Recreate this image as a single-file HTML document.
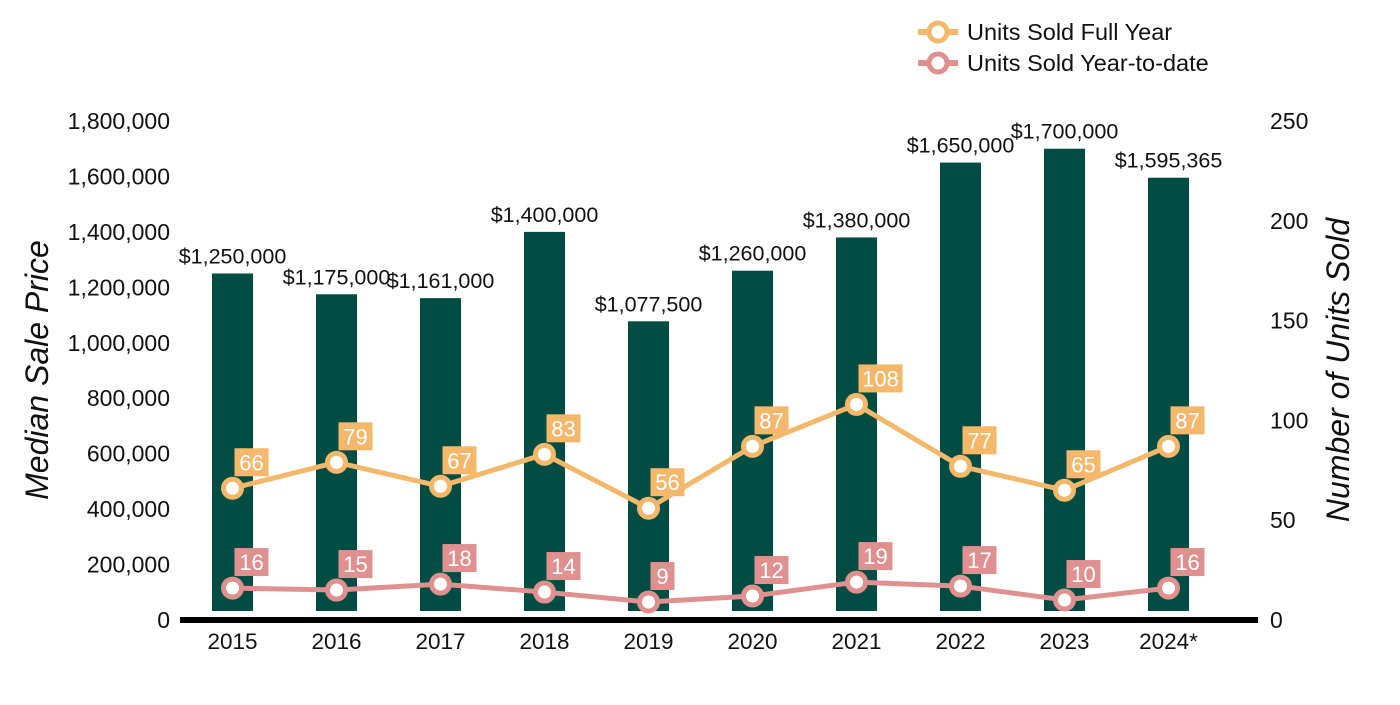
<!DOCTYPE html>
<html><head><meta charset="utf-8"><style>
body{margin:0;background:#fff;width:1400px;height:700px;overflow:hidden;font-family:"Liberation Sans",Arial,sans-serif}
</style></head><body>
<svg id="c" width="1400" height="700" style="font-family:'Liberation Sans',Arial,sans-serif">
<g>
<g>
<line x1="918" y1="32" x2="958" y2="32" stroke="#f5b86b" stroke-width="6"/>
<circle cx="938" cy="32" r="9" fill="#fff" stroke="#f5b86b" stroke-width="5"/>
<text x="967" y="40" font-size="23.5" fill="#111">Units Sold Full Year</text></g>
<g>
<line x1="918" y1="63" x2="958" y2="63" stroke="#e0918f" stroke-width="6"/>
<circle cx="938" cy="63" r="9" fill="#fff" stroke="#e0918f" stroke-width="5"/>
<text x="967" y="71" font-size="23.5" fill="#111">Units Sold Year-to-date</text></g>
</g>
<text transform="translate(48,370) rotate(-90)" text-anchor="middle" font-size="32" font-style="italic" fill="#111">Median Sale Price</text>
<text transform="translate(1349,370) rotate(-90)" text-anchor="middle" font-size="32" font-style="italic" fill="#111">Number of Units Sold</text>
<g id="g"></g>
</svg>
<script>
const categories=["2015","2016","2017","2018","2019","2020","2021","2022","2023","2024*"];
const prices=[1250000,1175000,1161000,1400000,1077500,1260000,1380000,1650000,1700000,1595365];
const fullYear=[66,79,67,83,56,87,108,77,65,87];
const ytd=[16,15,18,14,9,12,19,17,10,16];
const leftTicks=[0,200000,400000,600000,800000,1000000,1200000,1400000,1600000,1800000];
const rightTicks=[0,50,100,150,200,250];
const NS="http://www.w3.org/2000/svg";
const g=document.getElementById('g');
const y0=620,yTop=121;
const yL=v=>y0-(v/1800000)*(y0-yTop);
const yR=v=>y0-(v/250)*(y0-yTop);
const xC=i=>232.5+i*104;
function el(t,a,txt){const e=document.createElementNS(NS,t);for(const k in a)e.setAttribute(k,a[k]);if(txt!==undefined)e.textContent=txt;g.appendChild(e);return e;}
const fmt=v=>v.toLocaleString('en-US');
leftTicks.forEach(v=>{const t=el('text',{x:170,y:yL(v)+8,'text-anchor':'end','font-size':23,fill:'#111'},fmt(v));

});
rightTicks.forEach(v=>{const t=el('text',{x:1270,y:yR(v)+8,'font-size':23,fill:'#111'},String(v));

});
prices.forEach((v,i)=>{const b=el('rect',{x:xC(i)-20.5,y:yL(v),width:41,height:(y0-9)-yL(v),fill:'#024d43'});


const t=el('text',{x:xC(i),y:yL(v)-10,'text-anchor':'middle','font-size':21.5,fill:'#111'},'$'+fmt(v));

});
const ax=el('line',{x1:180,y1:620,x2:1258,y2:620,stroke:'#000','stroke-width':6});


categories.forEach((c,i)=>{const t=el('text',{x:xC(i),y:649,'text-anchor':'middle','font-size':22.5,fill:'#111'},c);

});
function series(vals,color,name){
const p=el('polyline',{points:vals.map((v,i)=>xC(i)+','+yR(v)).join(' '),fill:'none',stroke:color,'stroke-width':5});


vals.forEach((v,i)=>{const c=el('circle',{cx:xC(i),cy:yR(v),r:9,fill:'#fff',stroke:color,'stroke-width':5});


const s=String(v);const w=s.length>2?44:(s.length>1?34:24);
const r=el('rect',{x:xC(i)+2,y:yR(v)-40,width:w,height:28,fill:color});


const t=el('text',{x:xC(i)+2+w/2,y:yR(v)-18,'text-anchor':'middle','font-size':22,fill:'#fff'},s);

});}
series(fullYear,'#f5b86b','full-year');
series(ytd,'#e0918f','ytd');
</script>
</body></html>
